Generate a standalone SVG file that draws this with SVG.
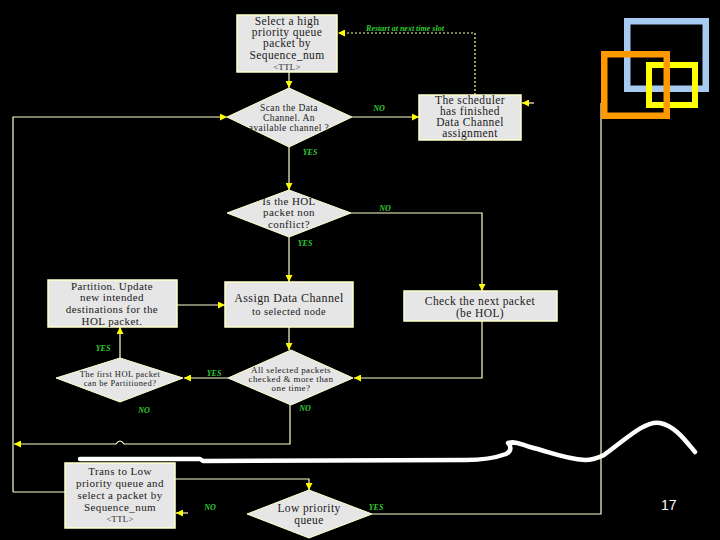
<svg xmlns="http://www.w3.org/2000/svg" width="720" height="540" viewBox="0 0 720 540">
<style>
.bg{fill:#000}
.box{fill:#E6E6E6;stroke:#FFFFCC;stroke-width:1.5}
.dia{fill:#E6E6E6;stroke:#FFFFCC;stroke-width:1}
.t{font-family:"Liberation Serif",serif;fill:#1a1a1a;text-anchor:middle;letter-spacing:0.4px}
.lbl{font-family:"Liberation Serif",serif;fill:#33CC33;font-weight:bold;font-style:italic;font-size:8px;text-anchor:middle}
.ln{fill:none;stroke:#FFFFCC;stroke-width:1.2}
.ar{marker-end:url(#ah)}
.dot{fill:none;stroke:#FFFF99;stroke-width:1.2;stroke-dasharray:2,2}
</style>
<defs>
<marker id="ah" viewBox="0 0 10 10" refX="10" refY="5" markerWidth="7" markerHeight="7" markerUnits="userSpaceOnUse" orient="auto">
<path d="M0,0 L10,5 L0,10 z" fill="#FFFF00"/>
</marker>
</defs>
<rect class="bg" x="0" y="0" width="720" height="540"/>

<g id="connectors">
<path class="ln ar" d="M289,72 L289,88"/>
<path class="ln ar" d="M352,117 L419,117"/>
<path class="dot ar" d="M475,95 L475,33 L338,33"/>
<path class="ln ar" d="M289,147 L289,190"/>
<path class="ln ar" d="M13,492 L13,117 L227,117"/>
<path class="ln" d="M13,492 L65,492"/>
<path class="ln ar" d="M351,213 L482,213 L482,291"/>
<path class="ln ar" d="M289,237 L289,282"/>
<path class="ln ar" d="M177,305 L225,305"/>
<path class="ln ar" d="M289,327 L289,350"/>
<path class="ln ar" d="M482,321 L482,378 L354,378"/>
<path class="ln ar" d="M228,378 L184,378"/>
<path class="ln ar" d="M120,358 L120,327"/>
<path class="ln ar" d="M290,405 L290,444 L124,444 Q120,438 116,444 L14,444"/>
<path class="ln ar" d="M175,479 L309,479 L309,490"/>
<path class="ln ar" d="M188,513 L176,513"/>
<path class="ln" d="M372,514 L601,514 L601,103"/>
<path class="ln ar" d="M534,103 L522,103"/>
</g>

<g id="labels">
<text class="lbl" x="405" y="31" font-size="7.5">Restart at next time slot</text>
<text class="lbl" x="379" y="111">NO</text>
<text class="lbl" x="310" y="155">YES</text>
<text class="lbl" x="385" y="211">NO</text>
<text class="lbl" x="305" y="246">YES</text>
<text class="lbl" x="103" y="351">YES</text>
<text class="lbl" x="214" y="376">YES</text>
<text class="lbl" x="144" y="413">NO</text>
<text class="lbl" x="305" y="411">NO</text>
<text class="lbl" x="210" y="510">NO</text>
<text class="lbl" x="376" y="510">YES</text>
</g>

<g id="n_select_high">
<rect class="box" x="237" y="15" width="100" height="57"/>
<text class="t" font-size="11.5"><tspan x="287" y="25">Select a high</tspan><tspan x="287" y="36">priority queue</tspan><tspan x="287" y="47">packet by</tspan><tspan x="287" y="59">Sequence_num</tspan><tspan x="287" y="70" font-size="8.5">&lt;TTL&gt;</tspan></text>
</g>

<g id="n_scan">
<polygon class="dia" points="289,88 352,117 289,147 227,117"/>
<text class="t" font-size="9.5"><tspan x="289" y="111">Scan the Data</tspan><tspan x="289" y="121">Channel. An</tspan><tspan x="289" y="131">available channel ?</tspan></text>
</g>

<g id="n_scheduler">
<rect class="box" x="419" y="95" width="102" height="45"/>
<text class="t" font-size="11.5"><tspan x="470" y="104">The scheduler</tspan><tspan x="470" y="115">has finished</tspan><tspan x="470" y="126">Data Channel</tspan><tspan x="470" y="137">assignment</tspan></text>
</g>

<g id="n_hol">
<polygon class="dia" points="289,190 351,213 289,237 227,213"/>
<text class="t" font-size="11"><tspan x="289" y="205">Is the HOL</tspan><tspan x="289" y="216">packet non</tspan><tspan x="289" y="228">conflict?</tspan></text>
</g>

<g id="n_partition">
<rect class="box" x="48" y="280" width="129" height="47"/>
<text class="t" font-size="11"><tspan x="112" y="290">Partition. Update</tspan><tspan x="112" y="301">new intended</tspan><tspan x="112" y="313">destinations for the</tspan><tspan x="112" y="325">HOL packet.</tspan></text>
</g>

<g id="n_assign">
<rect class="box" x="225" y="282" width="128" height="45"/>
<text class="t"><tspan x="289" y="302" font-size="12">Assign Data Channel</tspan><tspan x="289" y="315" font-size="10.5">to selected node</tspan></text>
</g>

<g id="n_check">
<rect class="box" x="404" y="291" width="153" height="30"/>
<text class="t" font-size="11.5"><tspan x="480" y="305">Check the next packet</tspan><tspan x="480" y="317">(be HOL)</tspan></text>
</g>

<g id="n_allselected">
<polygon class="dia" points="291,350 353,378 291,405 228,378"/>
<text class="t" font-size="9"><tspan x="291" y="373">All  selected packets</tspan><tspan x="291" y="382">checked &amp; more than</tspan><tspan x="291" y="391">one time?</tspan></text>
</g>

<g id="n_firsthol">
<polygon class="dia" points="120,358 183,378 120,402 56,378"/>
<text class="t" font-size="8.5"><tspan x="120" y="377">The first HOL packet</tspan><tspan x="120" y="386">can be Partitioned?</tspan></text>
</g>

<g id="n_trans">
<rect class="box" x="65" y="463" width="110" height="65"/>
<text class="t" font-size="11"><tspan x="120" y="475">Trans to Low</tspan><tspan x="120" y="487">priority queue and</tspan><tspan x="120" y="499">select a packet by</tspan><tspan x="120" y="511">Sequence_num</tspan><tspan x="120" y="522" font-size="8.5">&lt;TTL&gt;</tspan></text>
</g>

<g id="n_lowprio">
<polygon class="dia" points="309,490 372,514 309,538 247,514"/>
<text class="t" font-size="11.5"><tspan x="309" y="512">Low priority</tspan><tspan x="309" y="524">queue</tspan></text>
</g>

<g id="decor">
<path d="M80,459 L200,459 L203,461 L466,460 C480,460 495,458 506,454 C512,451 511,446 508,443 C515,441 520,444 530,447 C550,452 565,459 585,460 C592,460 598,458 604,455 C625,440 645,420 660,423 C675,426 685,440 695,452" fill="none" stroke="#FFFFFF" stroke-width="4.5" stroke-linecap="round" stroke-linejoin="round"/>
<rect x="627.25" y="21.25" width="78.5" height="67.5" fill="none" stroke="#A6CAF0" stroke-width="6.5"/>
<rect x="649" y="65" width="46" height="40" fill="none" stroke="#FFFF00" stroke-width="6"/>
<rect x="604.25" y="54.25" width="62.5" height="61.5" fill="none" stroke="#FF9900" stroke-width="6.5"/>
<text x="661" y="510" font-family="Liberation Sans, sans-serif" font-size="14" fill="#FFFFFF">17</text>
</g>
</svg>
